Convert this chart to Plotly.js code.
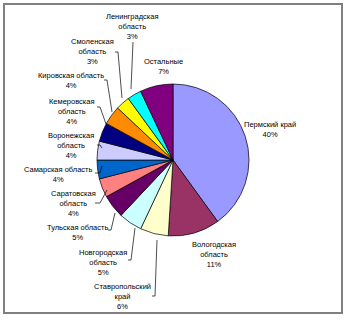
<!DOCTYPE html>
<html>
<head>
<meta charset="utf-8">
<script src="https://cdn.plot.ly/plotly-3.0.1.min.js"></script>
<style>html,body{margin:0;padding:0;background:#fff;}#chart{width:347px;height:320px;}</style>
</head>
<body>
<div id="chart"></div>
<script>
var regions = ["Пермский край","Вологодская область","Ставропольский край","Новгородская область","Тульская область","Саратовская область","Самарская область","Воронежская область","Кемеровская область","Кировская область","Смоленская область","Ленинградская область","Остальные"];
var displayLabels = ["Пермский край","Вологодская<br>область","Ставропольский<br>край","Новгородская<br>область","Тульская область","Саратовская<br>область","Самарская область","Воронежская<br>область","Кемеровская<br>область","Кировская область","Смоленская<br>область","Ленинградская<br>область","Остальные"];
var shares = [40, 11, 6, 5, 5, 4, 4, 4, 4, 4, 3, 3, 7];
var sliceColors = ["#9999FF","#993366","#FFFFCC","#CCFFFF","#660066","#FF8080","#0066CC","#CCCCFF","#000080","#FF8C00","#FFFF00","#00FFFF","#800080"];

var W = 347, H = 320;
function px(x){ return x / W; }
function py(y){ return 1 - y / H; }

// label centres (px) and leader lines (px) – layout only
var labelPos = [[270,129],[214,254.5],[122,296.5],[102.5,262.5],[77,232],[73,203],[58,174],[71,145],[72,111],[71,80],[92,51.5],[132,26.5],[163,66]];
var leaders = [null,null,
  [[152,296],[155,296],[157,240]],
  [[128,260],[131,260],[135,228]],
  [[108,230],[111,230],[115,213]],
  [[95,203],[100,203],[107,190]],
  [[95,173],[100,173],[102,166]],
  [[97,145],[100,145],[102,148]],
  [[97,107],[100,107],[106,124]],
  [[104,80],[107,80],[112,112]],
  [[115,52],[118,52],[122,98]],
  [[133,42],[131,89]],
  null];

var cx = 173, cy = 160, r = 76;

var trace = {
  type: 'pie',
  labels: regions,
  values: shares,
  sort: false,
  direction: 'clockwise',
  rotation: 0,
  textinfo: 'none',
  hoverinfo: 'label+percent',
  marker: {colors: sliceColors, line: {color: '#000', width: 0.7}},
  domain: {x: [px(cx - r), px(cx + r)], y: [py(cy + r), py(cy - r)]},
  showlegend: false
};

var annotations = regions.map(function(name, i){
  return {
    xref: 'paper', yref: 'paper',
    x: px(labelPos[i][0]), y: py(labelPos[i][1]),
    xanchor: 'center', yanchor: 'middle',
    text: displayLabels[i] + '<br>' + shares[i] + '%',
    showarrow: false, align: 'center',
    font: {family: 'Liberation Sans, Arial, sans-serif', size: 7.5, color: '#000'}
  };
});

var shapes = [{
  type: 'rect', xref: 'paper', yref: 'paper',
  x0: px(4), x1: px(342), y0: py(313), y1: py(4),
  line: {color: '#808080', width: 2}
}];
leaders.forEach(function(pts){
  if (!pts) return;
  var d = pts.map(function(p, k){ return (k ? 'L' : 'M') + px(p[0]) + ',' + py(p[1]); }).join(' ');
  shapes.push({type: 'path', xref: 'paper', yref: 'paper', path: d, line: {color: '#000', width: 0.7}});
});

Plotly.newPlot('chart', [trace], {
  width: W, height: H,
  margin: {l: 0, r: 0, t: 0, b: 0},
  paper_bgcolor: '#fff',
  annotations: annotations,
  shapes: shapes
}, {displayModeBar: false, staticPlot: true});
</script>
</body>
</html>
